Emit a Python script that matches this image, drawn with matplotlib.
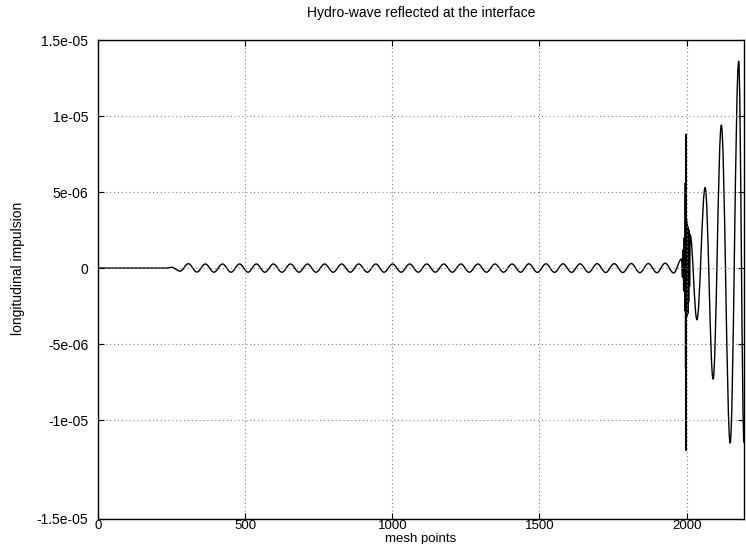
import numpy as np
import matplotlib
matplotlib.use("Agg")
import matplotlib.pyplot as plt
from matplotlib.path import Path
from matplotlib.patches import PathPatch

plt.rcParams['font.family'] = ['Liberation Sans', 'DejaVu Sans']

# --- values (mesh point, impulsion) ---
# quiet region before the wave arrives
lead_x = [0, 230, 250, 279]
lead_y = [0.0, 0.0, 0.5e-7, -2.0e-7]

# small incident wave: crests and troughs
crest_x = [307, 365, 423, 481, 538, 596, 654, 712, 770, 828, 886, 944, 1001, 1059,
           1117, 1175, 1233, 1291, 1349, 1407, 1464, 1522, 1580, 1638, 1696, 1754,
           1812, 1870, 1927]
crest_y = [2.9e-7, 2.7e-7, 2.7e-7, 2.7e-7, 2.7e-7, 2.7e-7, 2.7e-7, 2.7e-7, 2.7e-7,
           2.7e-7, 2.7e-7, 2.7e-7, 2.7e-7, 2.7e-7, 2.7e-7, 2.7e-7, 2.7e-7, 2.7e-7,
           2.7e-7, 2.7e-7, 2.8e-7, 2.8e-7, 2.8e-7, 2.8e-7, 2.9e-7, 2.9e-7, 3.0e-7,
           3.0e-7, 3.2e-7]
trough_x = [336, 394, 452, 510, 567, 625, 683, 741, 799, 857, 915, 972, 1030, 1088,
            1146, 1204, 1262, 1320, 1378, 1436, 1493, 1551, 1609, 1667, 1725, 1783,
            1841, 1899, 1956]
trough_y = [-2.6e-7, -2.7e-7, -2.7e-7, -2.7e-7, -2.7e-7, -2.7e-7, -2.7e-7, -2.7e-7,
            -2.7e-7, -2.7e-7, -2.7e-7, -2.7e-7, -2.7e-7, -2.7e-7, -2.7e-7, -2.7e-7,
            -2.7e-7, -2.7e-7, -2.7e-7, -2.7e-7, -2.8e-7, -2.8e-7, -2.8e-7, -2.8e-7,
            -2.9e-7, -2.9e-7, -3.0e-7, -3.0e-7, -3.2e-7]

# interface burst and reflected wave
burst_x = [1983, 1986, 1988, 1990, 1992, 1994, 1995.5, 1996.5, 1997.5, 1998.5,
           1999.5, 2001, 2002.5, 2004, 2005.5, 2007, 2008.5, 2010, 2012,
           2035, 2063, 2090, 2118, 2148, 2177, 2195]
burst_y = [0.6e-6, -0.6e-6, 1.2e-6, -1.5e-6, 2.0e-6, -2.8e-6, 5.6e-6, -6.6e-6,
           8.8e-6, -12.0e-6, 3.3e-6, -3.2e-6, 3.0e-6, -3.0e-6, 2.7e-6, -2.2e-6,
           2.5e-6, -1.2e-6, 2.2e-6,
           -3.4e-6, 5.3e-6, -7.3e-6, 9.4e-6, -11.5e-6, 13.6e-6, -11.5e-6]

xticks = [0, 500, 1000, 1500, 2000]
ytick_labels = ["-1.5e-05", "-1e-05", "-5e-06", "0", "5e-06", "1e-05", "1.5e-05"]
# the reference's lowest tick sits a bit lower than a regular step
yticks = [-1.65e-5, -1e-5, -5e-6, 0, 5e-6, 1e-5, 1.5e-5]


def smooth_path(xs, ys):
    # cubic segments with flat tangents at each extremum (sine-like arcs)
    verts = [(xs[0], ys[0])]
    codes = [Path.MOVETO]
    for i in range(1, len(xs)):
        d = (xs[i] - xs[i - 1]) * 0.3634
        verts += [(xs[i - 1] + d, ys[i - 1]), (xs[i] - d, ys[i]), (xs[i], ys[i])]
        codes += [Path.CURVE4] * 3
    return Path(verts, codes)


wave = sorted(zip(crest_x + trough_x, crest_y + trough_y))
xs = lead_x + [p[0] for p in wave] + burst_x
ys = lead_y + [p[1] for p in wave] + burst_y

fig = plt.figure(figsize=(7.46, 5.44), dpi=100)
ax = fig.add_axes([98 / 746, 1 - 519 / 544, (744 - 98) / 746, (519 - 40) / 544])

ax.add_patch(PathPatch(smooth_path(xs, ys), facecolor="none", edgecolor="black",
                       lw=1.0, joinstyle="round"))

ax.set_xlim(0, 2195)
ax.set_ylim(-1.65e-5, 1.5e-5)
ax.set_xticks(xticks)
ax.set_xticklabels([str(t) for t in xticks])
ax.set_yticks(yticks)
ax.set_yticklabels(ytick_labels)
ax.grid(True, color="#808080", linestyle=(0, (1, 2.5)), lw=0.8)
ax.tick_params(direction="in", top=True, right=True, length=4, width=0.8,
               labelsize=10, colors="black")
ax.tick_params(axis="x", pad=1, labelsize=9.5)
ax.tick_params(axis="y", pad=7)
for s in ax.spines.values():
    s.set_linewidth(1.0)

fig.text(421 / 746, 1 - 13 / 544, "Hydro-wave reflected at the interface",
         ha="center", va="center", fontsize=10)
fig.text(421 / 746, 1 - 539 / 544, "mesh points", ha="center", va="center",
         fontsize=9.5)
fig.text(18 / 746, 1 - 268 / 544, "longitudinal impulsion", ha="center", va="center",
         rotation=90, fontsize=10)

fig.savefig("out.png", dpi=100)
